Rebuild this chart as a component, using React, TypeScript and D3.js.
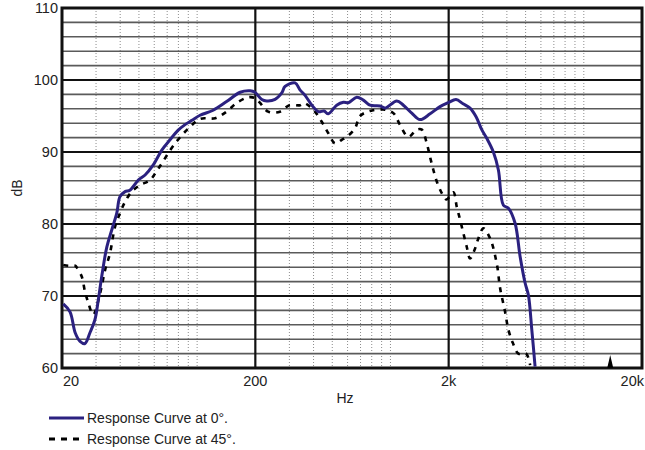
import React from 'react';
import * as d3 from 'd3';

// response at 0 degrees: [Hz, dB]
const curve0: [number, number][] = [
  [20.3, 68.9], [22, 67.8], [23.4, 64.9], [24.8, 63.7], [26.3, 63.4], [27.9, 64.9],
  [29.6, 66.7], [30.8, 69.4], [32.1, 72.7], [34.1, 76.8], [36.2, 79.2], [38.4, 81.5],
  [39.9, 83.8], [42.4, 84.5], [44.9, 84.7], [49.6, 86.1], [53.8, 86.8], [59.3, 88.2],
  [65.8, 90.3], [72.4, 91.7], [79.6, 93.0], [86.6, 93.8], [94, 94.4], [103.5, 95.1],
  [121, 95.8], [142, 97.0], [167, 98.3], [188, 98.5], [199, 98.3], [216, 97.3],
  [229, 97.1], [253, 97.3], [274, 98.2], [285, 99.1], [321, 99.6], [341, 98.6],
  [361, 97.9], [392, 96.5], [424, 95.6], [453, 95.7], [477, 95.3], [527, 96.5],
  [571, 96.9], [606, 96.85], [669, 97.6], [724, 97.2], [784, 96.5], [884, 96.4],
  [938, 96.1], [1078, 97.1], [1166, 96.5], [1289, 95.4], [1422, 94.5], [1603, 95.3],
  [1805, 96.3], [1992, 96.85], [2184, 97.3], [2374, 96.7], [2580, 96.1], [2772, 94.9],
  [2966, 93.1], [3148, 91.9], [3406, 90.0], [3616, 87.5], [3838, 82.6], [4074, 82.2],
  [4412, 80.1], [4683, 75.5], [4971, 71.8], [5171, 70.1], [5384, 65.3], [5598, 60.2],
];

// response at 45 degrees: [Hz, dB]
const curve45: [number, number][] = [
  [20.3, 74.3], [21.6, 74.2], [23.4, 74.2], [23.8, 74.0], [25.3, 72.7], [26.3, 70.6],
  [27.4, 69.0], [29.0, 67.4], [31.5, 70.4], [33.4, 73.6], [35.4, 75.9], [37.6, 79.6],
  [39.9, 81.5], [42.4, 83.1], [45.9, 84.5], [50.6, 85.4], [57, 86.1], [63, 87.7],
  [76.9, 91.2], [91.9, 93.5], [103.5, 94.6], [124, 94.7], [142, 95.6], [160, 96.8],
  [184, 97.6], [199, 97.5], [211, 96.85], [233, 95.6], [268, 95.6], [300, 96.5],
  [341, 96.5], [357, 96.8], [384, 96.3], [407, 95.6], [441, 94.2], [477, 92.6],
  [517, 91.2], [560, 91.7], [594, 92.1], [656, 93.3], [696, 95.0], [784, 95.7],
  [919, 95.9], [1035, 95.4], [1121, 93.75], [1237, 92.1], [1368, 93.1], [1452, 93.1],
  [1541, 91.2], [1603, 89.3], [1667, 87.5], [1736, 85.9], [1842, 84.3], [1950, 83.4],
  [2115, 84.4], [2202, 82.4], [2291, 80.6], [2384, 78.7], [2482, 76.8], [2580, 75.2],
  [2739, 76.6], [2849, 78.0], [3024, 79.4], [3276, 78.0], [3547, 74.5], [3690, 71.1],
  [3916, 67.8], [4074, 65.3], [4292, 63.5], [4588, 62.0], [5030, 62.0], [5276, 60.4],
];

const yTicks = [60, 70, 80, 90, 100, 110];
const xTicks = [20, 200, 2000, 20000];
const xTickLabels = ['20', '200', '2k', '20k'];
const markerHz = 13700;

const legendItems = [
  { label: 'Response Curve at 0°.', dashed: false },
  { label: 'Response Curve at 45°.', dashed: true },
];

const W = 645;
const H = 450;
const margin = { top: 8, right: 3, bottom: 82, left: 62 };
const navy = '#2b2180';
const font = 'Liberation Sans, Arial, sans-serif';

export default function App() {
  const x = d3.scaleLog().domain([20, 20000]).range([margin.left, W - margin.right]);
  const y = d3.scaleLinear().domain([60, 110]).range([H - margin.bottom, margin.top]);

  const line = d3.line<[number, number]>()
    .x(d => x(d[0]))
    .y(d => y(d[1]))
    .curve(d3.curveCatmullRom.alpha(0.5));

  const minorY = d3.range(62, 110, 2).filter(v => v % 10 !== 0);
  const majorY = [70, 80, 90, 100];
  // dotted verticals: 30..100, 300..1000, 3000..10000
  const gridX: number[] = [];
  [10, 100, 1000].forEach(dec => {
    for (let k = 3; k <= 10; k++) gridX.push(dec * k);
  });

  const [x0, x1] = x.range();
  const [yb, yt] = y.range();

  return (
    <div style={{ position: 'absolute', left: 0, top: 0 }}>
      <svg width={W} height={H} style={{ display: 'block', background: '#fff' }}>
        {gridX.map(v => (
          <line key={'gx' + v} x1={x(v)} x2={x(v)} y1={yt} y2={yb}
            stroke="#8c8c8c" strokeWidth={1} strokeDasharray="1,2" />
        ))}
        {minorY.map(v => (
          <line key={'my' + v} x1={x0} x2={x1} y1={y(v)} y2={y(v)} stroke="#5a5a5a" strokeWidth={1.6} />
        ))}
        {majorY.map(v => (
          <line key={'My' + v} x1={x0} x2={x1} y1={y(v)} y2={y(v)} stroke="#111" strokeWidth={2.2} />
        ))}
        {[200, 2000].map(v => (
          <line key={'Mx' + v} x1={x(v)} x2={x(v)} y1={yt} y2={yb} stroke="#111" strokeWidth={2.2} />
        ))}
        <rect x={x0} y={yt} width={x1 - x0} height={yb - yt} fill="none" stroke="#111" strokeWidth={3} />

        <path d={line(curve45) || ''} fill="none" stroke="#000" strokeWidth={2.6} strokeDasharray="5,6" />
        <path d={line(curve0) || ''} fill="none" stroke={navy} strokeWidth={3} strokeLinejoin="round" />

        <path d={`M${x(markerHz) - 3},${yb} L${x(markerHz)},${yb - 13} L${x(markerHz) + 3},${yb} Z`} fill="#000" />

        {yTicks.map(v => (
          <text key={'yt' + v} x={x0 - 4} y={y(v) + 5} textAnchor="end" fontFamily={font} fontSize={14.5} fill="#222">{v}</text>
        ))}
        {xTicks.map((v, i) => (
          <text key={'xt' + v} x={i === 0 ? x(v) + 1 : i === xTicks.length - 1 ? W - 1 : x(v)} y={yb + 18}
            textAnchor={i === 0 ? 'start' : i === xTicks.length - 1 ? 'end' : 'middle'}
            fontFamily={font} fontSize={14.5} fill="#222">{xTickLabels[i]}</text>
        ))}
        <text x={345} y={403} textAnchor="middle" fontFamily={font} fontSize={14} fill="#222">Hz</text>
        <text transform={`translate(22,${(yt + yb) / 2}) rotate(-90)`} textAnchor="middle" fontFamily={font} fontSize={14} fill="#222">dB</text>

        {legendItems.map((it, i) => (
          <g key={it.label} transform={`translate(49,${418 + i * 21})`}>
            <line x1={0} x2={35} y1={0} y2={0} stroke={it.dashed ? '#000' : navy} strokeWidth={3}
              strokeDasharray={it.dashed ? '6,6' : undefined} />
            <text x={38} y={5} fontFamily={font} fontSize={14} fill="#222">{it.label}</text>
          </g>
        ))}
      </svg>
    </div>
  );
}
